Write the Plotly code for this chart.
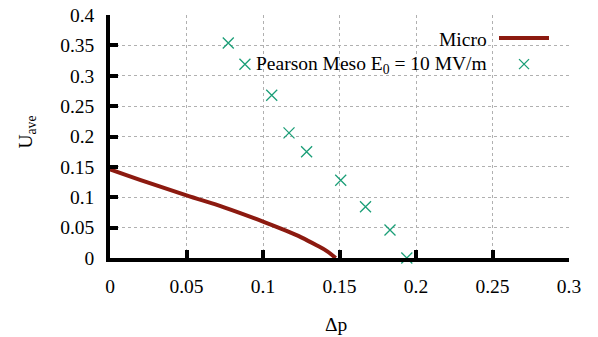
import plotly.graph_objects as go

# Micro curve
micro_dp = [0.0, 0.025, 0.05, 0.075, 0.1, 0.115, 0.125, 0.135, 0.142, 0.1475]
micro_u = [0.146, 0.124, 0.103, 0.083, 0.060, 0.045, 0.034, 0.021, 0.011, 0.0]

# Pearson Meso E0 = 10 MV/m
meso_dp = [0.0773, 0.0882, 0.1057, 0.117, 0.1285, 0.1508, 0.167, 0.183, 0.194]
meso_u = [0.354, 0.319, 0.268, 0.206, 0.175, 0.128, 0.0845, 0.046, 0.0]

x_ticks = [0, 0.05, 0.1, 0.15, 0.2, 0.25, 0.3]
x_labels = ["0", "0.05", "0.1", "0.15", "0.2", "0.25", "0.3"]
y_ticks = [0, 0.05, 0.1, 0.15, 0.2, 0.25, 0.3, 0.35, 0.4]
y_labels = ["0", "0.05", "0.1", "0.15", "0.2", "0.25", "0.3", "0.35", "0.4"]

red = "#8c1a10"
green = "#1a9e77"
font = "Liberation Serif"
fsize = 19.5

fig = go.Figure()
fig.add_trace(go.Scatter(x=micro_dp, y=micro_u, mode="lines",
                         line=dict(color=red, width=4), line_shape="spline",
                         showlegend=False, cliponaxis=False))
fig.add_trace(go.Scatter(x=meso_dp, y=meso_u, mode="markers",
                         marker=dict(symbol="x-thin", size=11,
                                     line=dict(color=green, width=1.3)),
                         showlegend=False, cliponaxis=False))

axis_common = dict(showline=True, linecolor="black", linewidth=3.5,
                   ticks="inside", ticklen=8, tickwidth=3.5, tickcolor="black",
                   showgrid=True, gridcolor="#b0b0b0", griddash="dot", gridwidth=1,
                   zeroline=False, mirror=False, automargin=False,
                   tickfont=dict(family=font, size=fsize, color="black"))

fig.update_xaxes(range=[0, 0.3], tickvals=x_ticks, ticktext=x_labels,
                 ticklabelstandoff=8, **axis_common)
fig.update_yaxes(range=[0, 0.4], tickvals=y_ticks, ticktext=y_labels,
                 ticklabelstandoff=8, **axis_common)

shapes = [
    dict(type="rect", xref="paper", yref="paper", x0=0.305, x1=0.974, y0=0.765, y1=0.947,
         fillcolor="white", line=dict(width=0), layer="between"),
    dict(type="line", xref="paper", yref="paper", x0=0.8475, x1=0.9564, y0=0.905, y1=0.905,
         line=dict(color=red, width=4)),
    dict(type="line", xref="paper", yref="paper", xsizemode="pixel", ysizemode="pixel",
         xanchor=0.902, yanchor=0.798, x0=-5, x1=5, y0=-5, y1=5,
         line=dict(color=green, width=1.3)),
    dict(type="line", xref="paper", yref="paper", xsizemode="pixel", ysizemode="pixel",
         xanchor=0.902, yanchor=0.798, x0=-5, x1=5, y0=5, y1=-5,
         line=dict(color=green, width=1.3)),
]
annotations = [
    dict(text="Micro", xref="paper", yref="paper", x=0.8257, y=0.9,
         xanchor="right", yanchor="middle", showarrow=False,
         font=dict(family=font, size=fsize, color="black")),
    dict(text="Pearson Meso E<sub>0</sub> = 10 MV/m", xref="paper", yref="paper",
         x=0.8257, y=0.794, xanchor="right", yanchor="middle", showarrow=False,
         font=dict(family=font, size=fsize, color="black")),
    dict(text="Δp", xref="paper", yref="paper", x=0.493, y=-0.275,
         xanchor="center", yanchor="middle", showarrow=False,
         font=dict(family=font, size=fsize, color="black")),
    dict(text="U<sub>ave</sub>", xref="paper", yref="paper", x=-0.181, y=0.52,
         xanchor="center", yanchor="middle", showarrow=False, textangle=-90,
         font=dict(family=font, size=fsize, color="black")),
]

fig.update_layout(width=598, height=337, margin=dict(l=110, r=29, t=15, b=79),
                  plot_bgcolor="white", paper_bgcolor="white",
                  shapes=shapes, annotations=annotations,
                  font=dict(family=font, color="black", size=fsize))

fig.write_html("out.html")
